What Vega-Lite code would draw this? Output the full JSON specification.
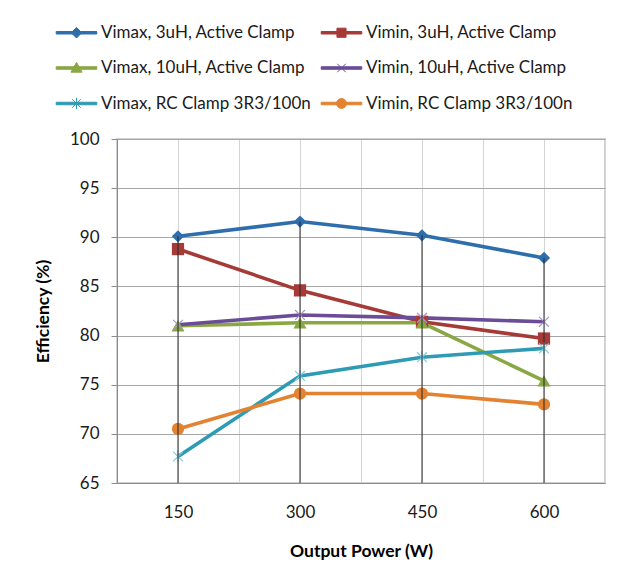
{
  "$schema": "https://vega.github.io/schema/vega-lite/v6.json",
  "width": 488,
  "height": 344,
  "autosize": {"type": "none"},
  "padding": {"left": 117, "top": 139, "right": 16, "bottom": 105},
  "background": "white",
  "config": {
    "view": {"stroke": "#D0D0D0", "strokeWidth": 2},
    "font": "Lato",
    "axis": {"labelColor": "#1a1a1a", "titleColor": "#000000", "labelFont": "Lato", "titleFont": "Lato"}
  },
  "data": {
    "values": [
      {"series": "Vimax, 3uH, Active Clamp", "power": 150, "value": 90.1},
      {"series": "Vimax, 3uH, Active Clamp", "power": 300, "value": 91.6},
      {"series": "Vimax, 3uH, Active Clamp", "power": 450, "value": 90.2},
      {"series": "Vimax, 3uH, Active Clamp", "power": 600, "value": 87.9},
      {"series": "Vimin, 3uH, Active Clamp", "power": 150, "value": 88.8},
      {"series": "Vimin, 3uH, Active Clamp", "power": 300, "value": 84.6},
      {"series": "Vimin, 3uH, Active Clamp", "power": 450, "value": 81.4},
      {"series": "Vimin, 3uH, Active Clamp", "power": 600, "value": 79.7},
      {"series": "Vimax, 10uH, Active Clamp", "power": 150, "value": 81.0},
      {"series": "Vimax, 10uH, Active Clamp", "power": 300, "value": 81.3},
      {"series": "Vimax, 10uH, Active Clamp", "power": 450, "value": 81.3},
      {"series": "Vimax, 10uH, Active Clamp", "power": 600, "value": 75.4},
      {"series": "Vimin, 10uH, Active Clamp", "power": 150, "value": 81.1},
      {"series": "Vimin, 10uH, Active Clamp", "power": 300, "value": 82.1},
      {"series": "Vimin, 10uH, Active Clamp", "power": 450, "value": 81.8},
      {"series": "Vimin, 10uH, Active Clamp", "power": 600, "value": 81.4},
      {"series": "Vimax, RC Clamp 3R3/100n", "power": 150, "value": 67.7},
      {"series": "Vimax, RC Clamp 3R3/100n", "power": 300, "value": 75.9},
      {"series": "Vimax, RC Clamp 3R3/100n", "power": 450, "value": 77.8},
      {"series": "Vimax, RC Clamp 3R3/100n", "power": 600, "value": 78.7},
      {"series": "Vimin, RC Clamp 3R3/100n", "power": 150, "value": 70.5},
      {"series": "Vimin, RC Clamp 3R3/100n", "power": 300, "value": 74.1},
      {"series": "Vimin, RC Clamp 3R3/100n", "power": 450, "value": 74.1},
      {"series": "Vimin, RC Clamp 3R3/100n", "power": 600, "value": 73.0}
    ]
  },
  "encoding": {
    "x": {
      "field": "power",
      "type": "quantitative",
      "scale": {"domain": [75, 675], "nice": false, "zero": false},
      "axis": {
        "values": [75, 150, 225, 300, 375, 450, 525, 600, 675],
        "labelExpr": "datum.value % 150 === 0 ? datum.label : ''",
        "grid": true,
        "gridColor": "#D4D4D4",
        "gridWidth": 1,
        "ticks": false,
        "tickSize": 0,
        "domain": true,
        "domainColor": "#8C8C8C",
        "labelFontSize": 17,
        "labelPadding": 21,
        "title": "Output Power (W)",
        "titleFontSize": 17.5,
        "titleFontWeight": "bold",
        "titlePadding": 22
      }
    },
    "y": {
      "field": "value",
      "type": "quantitative",
      "scale": {"domain": [65, 100], "nice": false, "zero": false},
      "axis": {
        "values": [65, 70, 75, 80, 85, 90, 95, 100],
        "grid": true,
        "gridColor": "#A6A6A6",
        "ticks": true,
        "tickSize": 6,
        "tickColor": "#8C8C8C",
        "domainColor": "#8C8C8C",
        "labelFontSize": 17,
        "labelPadding": 12,
        "title": "Efficiency (%)",
        "titleFontSize": 17.5,
        "titleFontWeight": "bold",
        "titlePadding": 17
      }
    }
  },
  "layer": [
    {
      "mark": {"type": "line", "strokeWidth": 3.6},
      "encoding": {
        "color": {
          "field": "series",
          "type": "nominal",
          "scale": {
            "domain": ["Vimax, 3uH, Active Clamp", "Vimin, 3uH, Active Clamp", "Vimax, 10uH, Active Clamp", "Vimin, 10uH, Active Clamp", "Vimax, RC Clamp 3R3/100n", "Vimin, RC Clamp 3R3/100n"],
            "range": ["#2F6EAC", "#A63A36", "#89A843", "#6B4C96", "#2E9BB5", "#E38230"]
          },
          "legend": {
            "orient": "none",
            "legendX": -49,
            "legendY": -115,
            "columns": 2,
            "direction": "horizontal",
            "title": null,
            "labelFont": "Lato",
            "labelFontSize": 17,
            "labelColor": "#1a1a1a",
            "labelLimit": 400,
            "symbolSize": 196,
            "labelOffset": 16,
            "columnPadding": 8,
            "rowPadding": 17.5,
            "encode": {
              "symbols": {
                "update": {
                  "shape": {"signal": "['M-2.9,-0.18L2.9,-0.18L2.9,0.18L-2.9,0.18Z M0,-0.75L0.75,0L0,0.75L-0.75,0Z', 'M-2.9,-0.18L2.9,-0.18L2.9,0.18L-2.9,0.18Z M-0.65,-0.65L0.65,-0.65L0.65,0.65L-0.65,0.65Z', 'M-2.9,-0.18L2.9,-0.18L2.9,0.18L-2.9,0.18Z M0,-0.8L0.8,0.6L-0.8,0.6Z', 'M-2.9,-0.18L2.9,-0.18L2.9,0.18L-2.9,0.18Z M-0.6,-0.6L0.6,0.6M-0.6,0.6L0.6,-0.6', 'M-2.9,-0.18L2.9,-0.18L2.9,0.18L-2.9,0.18Z M-0.6,-0.6L0.6,0.6M-0.6,0.6L0.6,-0.6M0,-0.8L0,0.8', 'M-2.9,-0.18L2.9,-0.18L2.9,0.18L-2.9,0.18Z M-0.7,0A0.7,0.7,0,1,1,0.7,0A0.7,0.7,0,1,1,-0.7,0Z'][datum.index]"},
                  "fill": {"scale": "color", "field": "value"},
                  "stroke": {"scale": "color", "field": "value"},
                  "strokeWidth": {"value": 1},
                  "opacity": {"value": 1}
                }
              }
            }
          }
        }
      }
    },
    {
      "transform": [{"filter": "datum.series === 'Vimax, 3uH, Active Clamp'"}],
      "mark": {"type": "point", "shape": "diamond", "filled": true, "color": "#2F6EAC", "size": 150, "opacity": 1}
    },
    {
      "transform": [{"filter": "datum.series === 'Vimin, 3uH, Active Clamp'"}],
      "mark": {"type": "point", "shape": "square", "filled": true, "color": "#A63A36", "size": 150, "opacity": 1}
    },
    {
      "transform": [{"filter": "datum.series === 'Vimax, 10uH, Active Clamp'"}],
      "mark": {"type": "point", "shape": "triangle-up", "filled": true, "color": "#89A843", "size": 170, "opacity": 1}
    },
    {
      "transform": [{"filter": "datum.series === 'Vimin, 10uH, Active Clamp'"}],
      "mark": {"type": "point", "shape": "M-0.8,-0.8L0.8,0.8M-0.8,0.8L0.8,-0.8", "filled": false, "stroke": "#A896CC", "strokeWidth": 1.2, "size": 150, "opacity": 1}
    },
    {
      "transform": [{"filter": "datum.series === 'Vimax, RC Clamp 3R3/100n'"}],
      "mark": {"type": "point", "shape": "M-0.8,-0.8L0.8,0.8M-0.8,0.8L0.8,-0.8M0,-1L0,1", "filled": false, "stroke": "#86CCDD", "strokeWidth": 1.2, "size": 150, "opacity": 1}
    },
    {
      "transform": [{"filter": "datum.series === 'Vimin, RC Clamp 3R3/100n'"}],
      "mark": {"type": "point", "shape": "circle", "filled": true, "color": "#E38230", "size": 150, "opacity": 1}
    },
    {
      "mark": {"type": "rule", "color": "#262626", "strokeWidth": 1},
      "encoding": {
        "x": {"field": "power", "type": "quantitative"},
        "y": {"aggregate": "max", "field": "value", "type": "quantitative", "title": "Efficiency (%)"},
        "y2": {"datum": 65}
      }
    }
  ]
}
